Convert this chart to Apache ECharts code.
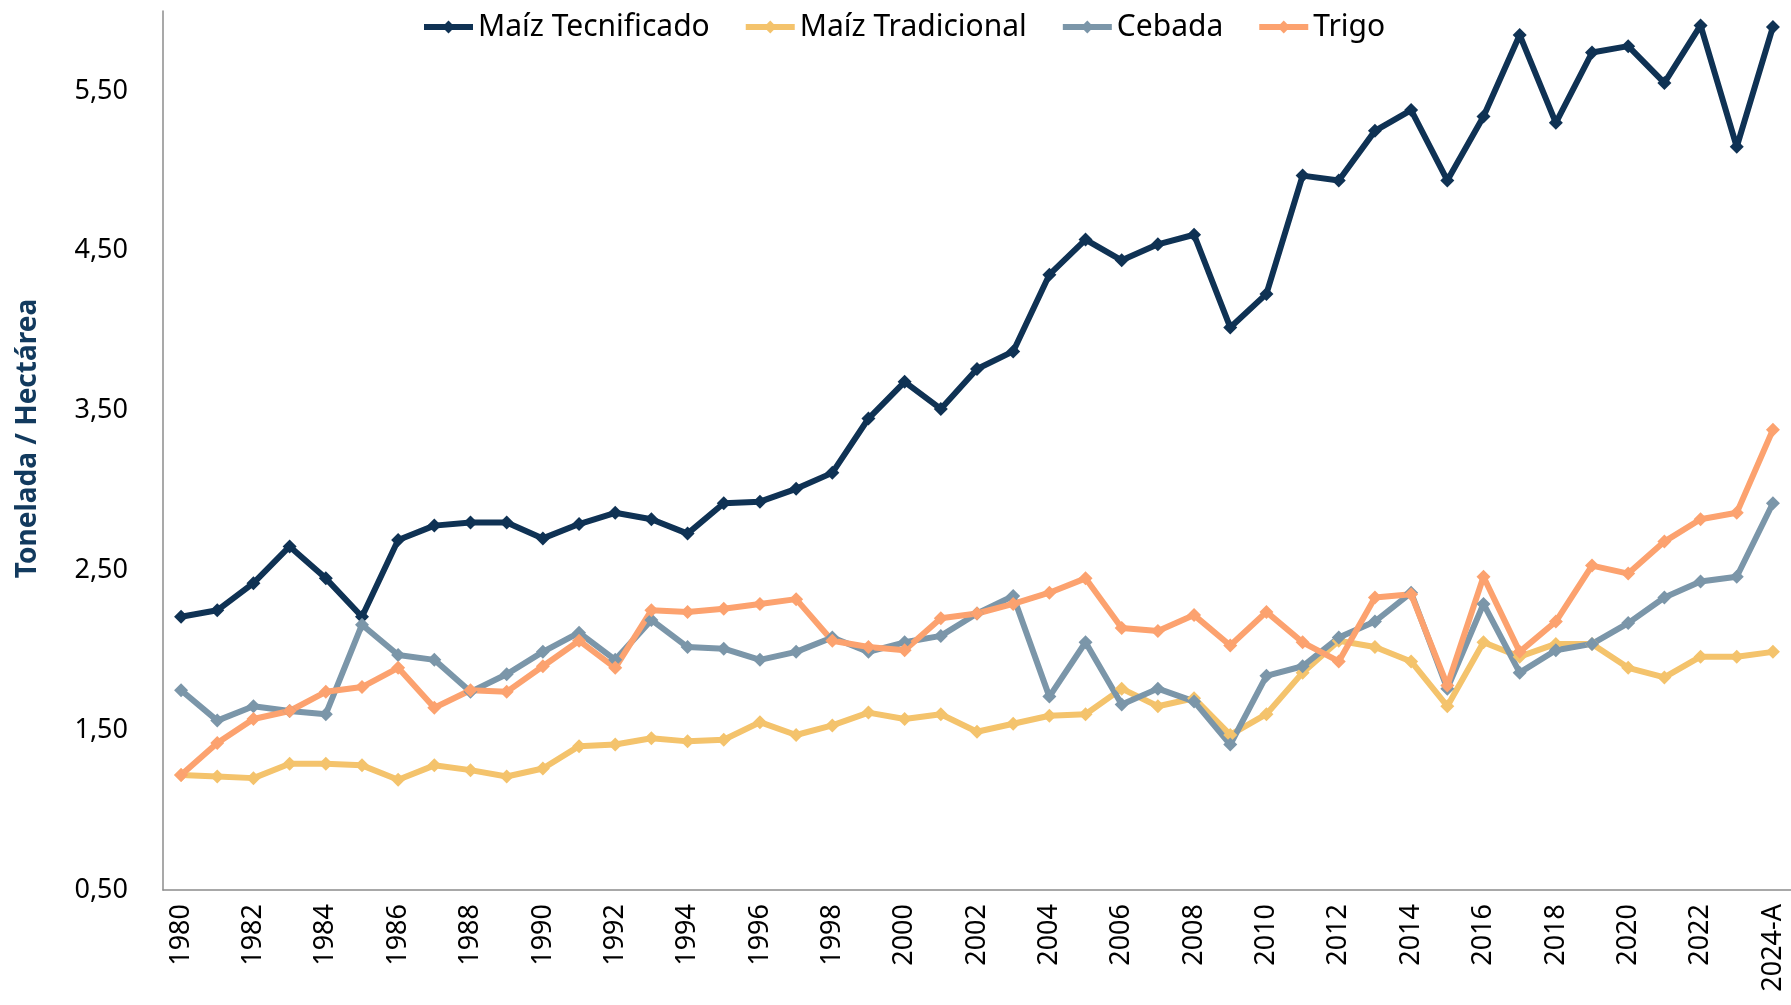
<!DOCTYPE html>
<html>
<head>
<meta charset="utf-8">
<script src="https://cdn.jsdelivr.net/npm/echarts@6.0.0/dist/echarts.min.js"></script>
<style>
html, body { margin: 0; padding: 0; background: #fff; }
#chart { width: 1791px; height: 1005px; }
</style>
</head>
<body>
<div id="chart"></div>
<script>
// años 1980 - 2023 y el avance 2024
var years = [];
for (var y = 1980; y <= 2023; y++) years.push(String(y));
years.push("2024-A");

var maizTecnificado = [2.21,2.25,2.42,2.65,2.45,2.21,2.69,2.78,2.80,2.80,
    2.70,2.79,2.86,2.82,2.73,2.92,2.93,3.01,3.11,3.45,
    3.68,3.51,3.76,3.87,4.35,4.57,4.44,4.54,4.60,4.02,
    4.23,4.97,4.94,5.25,5.38,4.94,5.34,5.85,5.30,5.74,
    5.78,5.55,5.91,5.15,5.90];

var maizTradicional = [1.22,1.21,1.20,1.29,1.29,1.28,1.19,1.28,1.25,1.21,
    1.26,1.40,1.41,1.45,1.43,1.44,1.55,1.47,1.53,1.61,
    1.57,1.60,1.49,1.54,1.59,1.60,1.76,1.65,1.70,1.47,
    1.60,1.86,2.06,2.02,1.93,1.65,2.05,1.96,2.04,2.04,
    1.89,1.83,1.96,1.96,1.99];

var cebada = [1.75,1.56,1.65,1.62,1.60,2.16,1.97,1.94,1.74,1.85,
    1.99,2.11,1.94,2.19,2.02,2.01,1.94,1.99,2.08,1.99,
    2.05,2.09,2.23,2.34,1.71,2.05,1.66,1.76,1.68,1.41,
    1.84,1.90,2.08,2.18,2.36,1.76,2.29,1.86,2.00,2.04,
    2.17,2.33,2.43,2.46,2.92];

var trigo = [1.22,1.42,1.57,1.62,1.74,1.77,1.89,1.64,1.75,1.74,
    1.90,2.06,1.89,2.25,2.24,2.26,2.29,2.32,2.06,2.02,
    2.00,2.20,2.23,2.29,2.36,2.45,2.14,2.12,2.22,2.03,
    2.24,2.05,1.93,2.33,2.35,1.78,2.46,1.99,2.18,2.53,
    2.48,2.68,2.82,2.86,3.38];

var colores = ["#0f3254", "#f4c36c", "#7b96a9", "#fca26f"];
var fuente = "'Noto Sans', 'DejaVu Sans', sans-serif";

function serie(nombre, datos, color){
    return {
        name: nombre,
        type: 'line',
        data: datos,
        symbol: 'diamond',
        symbolSize: 14,
        lineStyle: { width: 6, color: color },
        itemStyle: { color: color },
        emphasis: { disabled: true }
    };
}

var myChart = echarts.init(document.getElementById('chart'));

var option = {
    animation: false,
    textStyle: { fontFamily: fuente },
    legend: {
        left: 416,
        top: 7,
        itemWidth: 49,
        itemHeight: 16,
        itemGap: 33,
        lineStyle: { width: 6 },
        textStyle: { fontSize: 30, color: '#000', fontFamily: fuente },
        data: ['Maíz Tecnificado', 'Maíz Tradicional', 'Cebada', 'Trigo']
    },
    grid: {
        left: 163,
        right: 0,
        top: 11,
        bottom: 115,
        containLabel: false,
        outerBoundsMode: 'none'
    },
    xAxis: {
        type: 'category',
        data: years,
        boundaryGap: true,
        axisLine: { lineStyle: { color: '#8c8c8c', width: 1.5 } },
        axisTick: { interval: 2, length: 8, lineStyle: { color: '#8c8c8c', width: 1.5 } },
        axisLabel: {
            interval: 1,
            rotate: 90,
            margin: 14,
            fontSize: 27,
            color: '#000',
            fontFamily: fuente
        }
    },
    yAxis: {
        type: 'value',
        min: 0.5,
        max: 6,
        interval: 0.5,
        name: 'Tonelada / Hectárea',
        nameLocation: 'middle',
        nameGap: 121,
        nameRotate: 90,
        nameTextStyle: {
            fontSize: 28, fontWeight: 'bold', color: '#123a5e', fontFamily: fuente,
            padding: [0, 0, 0, 24]
        },
        axisLine: { show: true, lineStyle: { color: '#8c8c8c', width: 1.5 } },
        axisTick: { show: false },
        splitLine: { show: false },
        axisLabel: {
            margin: 35,
            fontSize: 27,
            color: '#000',
            fontFamily: fuente,
            formatter: function (v) {
                // solo 0,50 1,50 2,50 ...
                if (Math.round(v * 2) % 2 === 0) return '';
                return v.toFixed(2).replace('.', ',');
            }
        }
    },
    series: [
        serie('Maíz Tecnificado', maizTecnificado, colores[0]),
        serie('Maíz Tradicional', maizTradicional, colores[1]),
        serie('Cebada', cebada, colores[2]),
        serie('Trigo', trigo, colores[3])
    ]
};

myChart.setOption(option);
</script>
</body>
</html>
